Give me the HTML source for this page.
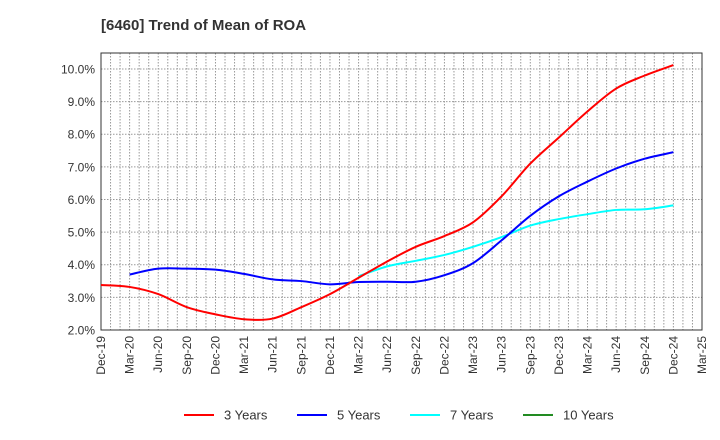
<!DOCTYPE html>
<html><head><meta charset="utf-8"><style>
body{margin:0;background:#fff;}
svg{display:block;font-family:"Liberation Sans",sans-serif;}
</style></head><body>
<svg id="c" width="720" height="440">
<text x="101" y="30" font-size="15" font-weight="bold" fill="#333">[6460]  Trend of Mean of ROA</text>
<g id="grid"></g><g id="axes"></g><g id="series"></g><g id="legend"></g>
</svg>
<script>
const categories=["Dec-19","Mar-20","Jun-20","Sep-20","Dec-20","Mar-21","Jun-21","Sep-21","Dec-21","Mar-22","Jun-22","Sep-22","Dec-22","Mar-23","Jun-23","Sep-23","Dec-23","Mar-24","Jun-24","Sep-24","Dec-24","Mar-25"];
const yTicks=[2,3,4,5,6,7,8,9,10];
const s3=[3.38,3.32,3.1,2.7,2.48,2.33,2.35,2.7,3.1,3.6,4.1,4.55,4.88,5.3,6.1,7.1,7.9,8.7,9.4,9.8,10.12];
const s5=[null,3.7,3.88,3.88,3.85,3.72,3.55,3.5,3.4,3.47,3.48,3.48,3.68,4.05,4.75,5.5,6.1,6.55,6.95,7.25,7.45];
const s7=[null,null,null,null,null,null,null,null,null,3.65,3.95,4.12,4.3,4.55,4.85,5.2,5.4,5.55,5.68,5.7,5.82];
const s10=[];
const NS="http://www.w3.org/2000/svg";
const L=101,R=702,T=53,B=330,yMin=2,yMax=10.49;
const xq=i=>L+(R-L)*i/(categories.length-1);
const y=v=>B-(v-yMin)/(yMax-yMin)*(B-T);
function mk(tag,at,parent){const e=document.createElementNS(NS,tag);for(const k in at)e.setAttribute(k,at[k]);parent.appendChild(e);return e;}
const grid=document.getElementById('grid'),axes=document.getElementById('axes'),ser=document.getElementById('series'),leg=document.getElementById('legend');
for(let m=1;m<(categories.length-1)*3;m++){const x=L+(R-L)*m/((categories.length-1)*3);
const g=mk('line',{x1:x,x2:x,y1:T,y2:B,stroke:'#999','stroke-dasharray':'1.5,1.5','stroke-width':1},grid);
}
yTicks.forEach(v=>{const g=mk('line',{x1:L,x2:R,y1:y(v),y2:y(v),stroke:'#999','stroke-dasharray':'1.5,1.5','stroke-width':1},grid);

const t=mk('text',{x:L-6,y:y(v)+4.5,'text-anchor':'end','font-size':12,fill:'#333'},axes);t.textContent=v.toFixed(1)+'%';
});
const fr=mk('rect',{x:L,y:T,width:R-L,height:B-T,fill:'none',stroke:'#333','stroke-width':1},axes);

categories.forEach((c,i)=>{const x=xq(i);const t=mk('text',{transform:`translate(${x+4},${B+6}) rotate(-90)`,'text-anchor':'end','font-size':12,fill:'#333'},axes);t.textContent=c;
});
function path(arr,color,name){const pts=[];arr.forEach((v,i)=>{if(v!=null)pts.push([xq(i),y(v)]);});if(pts.length<2)return;
let d=`M${pts[0][0]},${pts[0][1]}`;for(let i=0;i<pts.length-1;i++){const p0=pts[Math.max(0,i-1)],p1=pts[i],p2=pts[i+1],p3=pts[Math.min(pts.length-1,i+2)];
d+=` C${p1[0]+(p2[0]-p0[0])/6},${p1[1]+(p2[1]-p0[1])/6} ${p2[0]-(p3[0]-p1[0])/6},${p2[1]-(p3[1]-p1[1])/6} ${p2[0]},${p2[1]}`;}
const p=mk('path',{d:d,fill:'none',stroke:color,'stroke-width':2},ser);
}
path(s7,'#00ffff','line-7-years');path(s5,'#0000ff','line-5-years');path(s3,'#ff0000','line-3-years');path(s10,'#228b22','line-10-years');
[['3 Years','#ff0000',184],['5 Years','#0000ff',297],['7 Years','#00ffff',410],['10 Years','#228b22',523]].forEach(([n,c,x])=>{
const l=mk('line',{x1:x,x2:x+30,y1:415,y2:415,stroke:c,'stroke-width':2},leg);
const t=mk('text',{x:x+40,y:419.5,'font-size':13,fill:'#333'},leg);t.textContent=n;});
</script>
</body></html>
